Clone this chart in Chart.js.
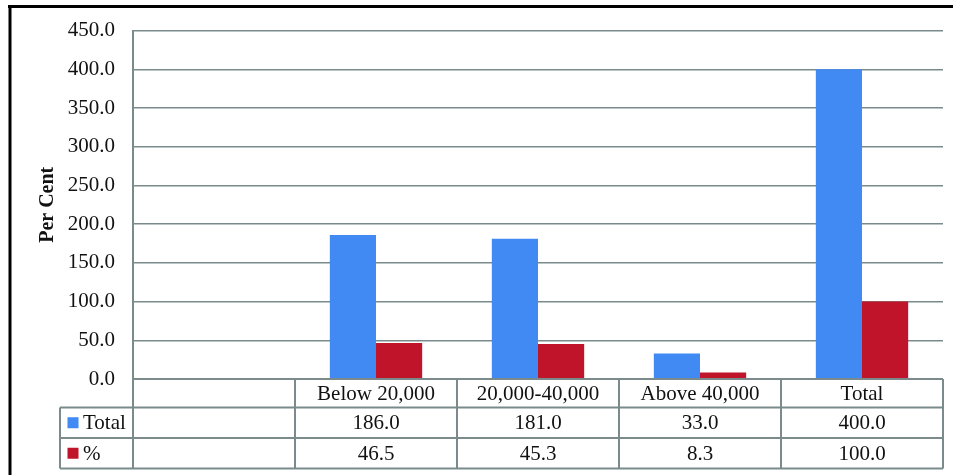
<!DOCTYPE html>
<html>
<head>
<meta charset="utf-8">
<script src="https://cdn.jsdelivr.net/npm/chart.js@4"></script>
<style>
  html, body { margin: 0; padding: 0; background: #fff; }
  canvas { display: block; }
</style>
</head>
<body>
<canvas id="chart" width="953" height="475"></canvas>
<script>
const categories = ["", "Below 20,000", "20,000-40,000", "Above 40,000", "Total"];
const seriesNames = ["Total", "%"];
const totalValues = [null, 186.0, 181.0, 33.0, 400.0];
const percentValues = [null, 46.5, 45.3, 8.3, 100.0];
const yMin = 0;
const yMax = 450;
const yStep = 50;

const BLUE = "#4189f3";
const RED = "#c0142b";
const GRID = "#7b8b8b";
const FONT = "'Liberation Serif', 'Times New Roman', serif";

// data table under the plot, lined up with the x scale
const tablePlugin = {
    id: "dataTable",
    afterDraw(chart) {
        const ctx = chart.ctx;
        const x = chart.scales.x;
        const area = chart.chartArea;
        const n = categories.length;
        const colW = (x.right - x.left) / n;
        const legendLeft = 60;
        const rows = [area.bottom, area.bottom + 28.5, area.bottom + 59, area.bottom + 89.5];

        ctx.save();
        ctx.strokeStyle = GRID;
        ctx.lineWidth = 2;

        // horizontal lines
        ctx.beginPath();
        ctx.moveTo(x.left, rows[0]); ctx.lineTo(x.right, rows[0]);
        for (let r = 1; r < rows.length; r++) {
            ctx.moveTo(legendLeft, rows[r]); ctx.lineTo(x.right, rows[r]);
        }
        // vertical lines
        for (let i = 0; i <= n; i++) {
            const cx = x.left + i * colW;
            ctx.moveTo(cx, rows[0]); ctx.lineTo(cx, rows[3]);
        }
        ctx.moveTo(legendLeft, rows[1]); ctx.lineTo(legendLeft, rows[3]);
        ctx.stroke();

        ctx.fillStyle = "#111";
        ctx.font = "21px " + FONT;
        ctx.textAlign = "center";
        ctx.textBaseline = "middle";
        const series = [totalValues, percentValues];
        for (let i = 0; i < n; i++) {
            const cx = x.left + (i + 0.5) * colW;
            ctx.fillText(categories[i], cx, (rows[0] + rows[1]) / 2 + 1);
            series.forEach((vals, s) => {
                const v = vals[i];
                if (v === null) return;
                ctx.fillText(v.toFixed(1), cx, (rows[s + 1] + rows[s + 2]) / 2 + 1);
            });
        }

        // legend keys
        const colors = [BLUE, RED];
        ctx.textAlign = "left";
        seriesNames.forEach((name, s) => {
            const cy = (rows[s + 1] + rows[s + 2]) / 2;
            ctx.fillStyle = colors[s];
            ctx.fillRect(67.5, cy - 5.5, 11, 11);
            ctx.fillStyle = "#111";
            ctx.fillText(name, 83, cy + 1);
        });

        // black frame
        ctx.strokeStyle = "#000";
        ctx.lineWidth = 3;
        ctx.beginPath();
        ctx.moveTo(8, 6.5); ctx.lineTo(953, 6.5);
        ctx.moveTo(10, 5); ctx.lineTo(10, 475);
        ctx.stroke();
        ctx.restore();
    }
};

new Chart(document.getElementById("chart").getContext("2d"), {
    type: "bar",
    data: {
        labels: categories,
        datasets: [
            { label: seriesNames[0], data: totalValues, backgroundColor: BLUE },
            { label: seriesNames[1], data: percentValues, backgroundColor: RED }
        ]
    },
    options: {
        responsive: false,
        animation: false,
        layout: { padding: { left: 0, right: 10, top: 28.5, bottom: 96 } },
        datasets: { bar: { categoryPercentage: 0.57, barPercentage: 1, borderWidth: 0 } },
        plugins: {
            legend: { display: false },
            tooltip: { enabled: false }
        },
        scales: {
            x: {
                display: false,
                grid: { display: false }
            },
            y: {
                min: yMin,
                max: yMax,
                afterFit(scale) { scale.width = 133; },
                ticks: {
                    stepSize: yStep,
                    padding: 18,
                    color: "#111",
                    font: { family: FONT, size: 21 },
                    callback: v => v.toFixed(1)
                },
                grid: { color: GRID, lineWidth: 1.5, drawTicks: false },
                border: { display: true, color: GRID, width: 2 },
                title: {
                    display: true,
                    text: "Per Cent",
                    color: "#111",
                    font: { family: FONT, size: 20, weight: "bold" },
                    padding: { top: 36, bottom: 0 }
                }
            }
        }
    },
    plugins: [tablePlugin]
});
</script>
</body>
</html>
